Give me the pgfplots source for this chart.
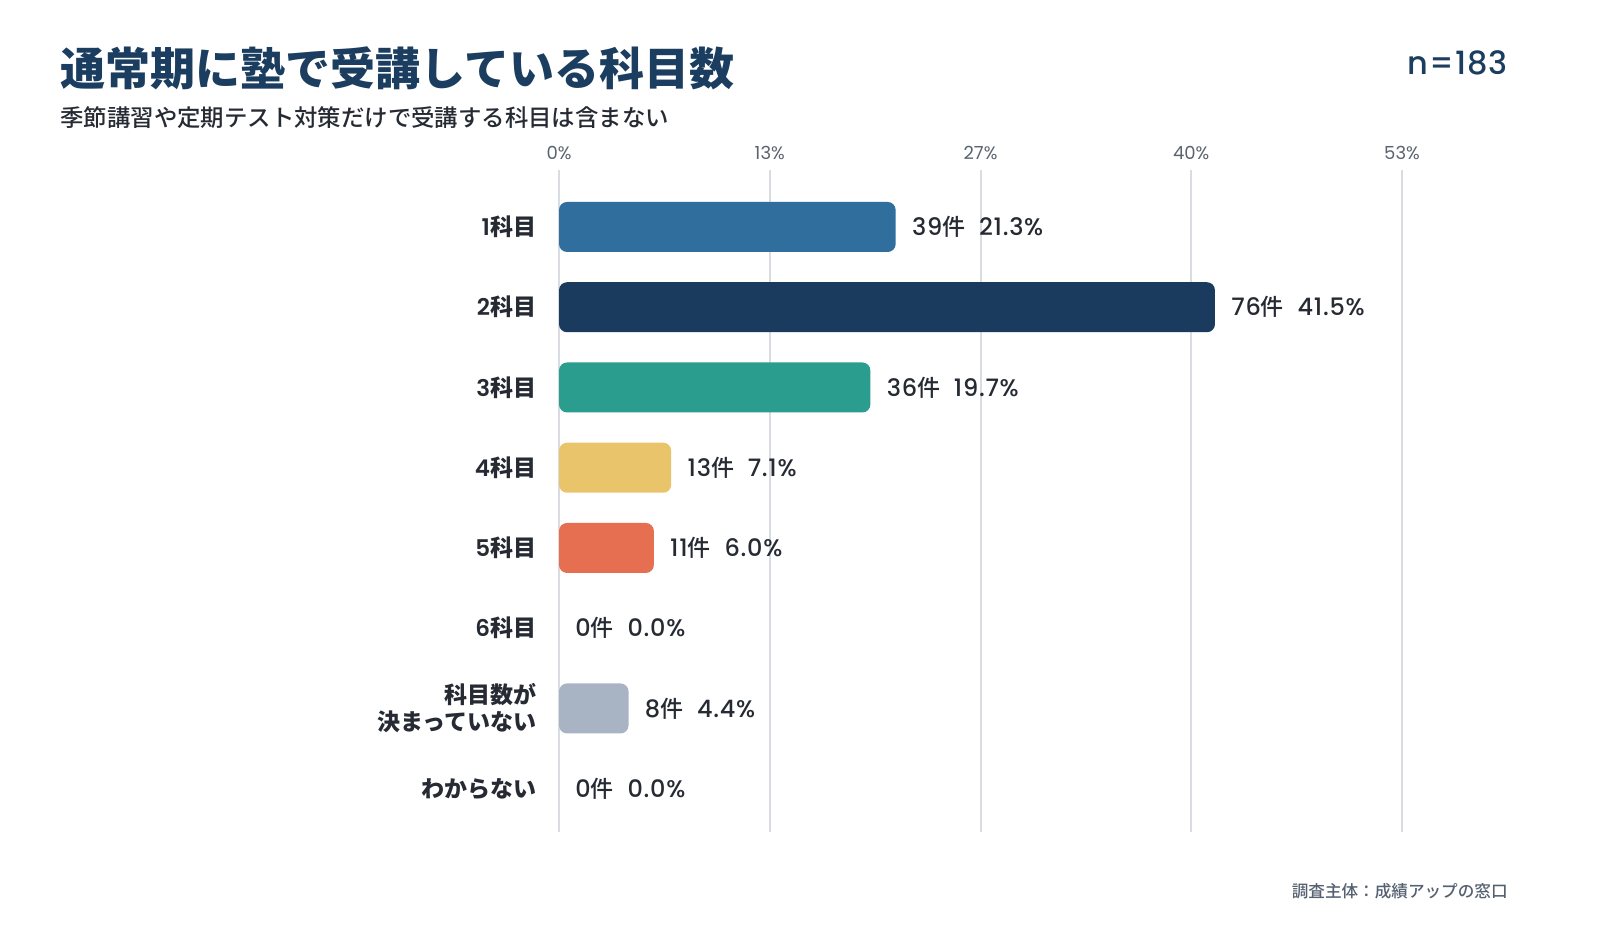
\documentclass[border=0pt]{standalone}
\usepackage{pgfplots}
\pgfplotsset{compat=1.18}
\usepackage{fontspec}
\setmainfont{Noto Sans CJK JP}
\newfontfamily\med{Noto Sans CJK JP Medium}
\newfontfamily\pop{Poppins}
\newfontfamily\popm{Poppins Medium}[LetterSpace=3]
\newfontfamily\pops{Poppins SemiBold}
\definecolor{titlec}{HTML}{1B3D5F}
\definecolor{cA}{HTML}{2F6E9D}
\definecolor{cB}{HTML}{1A3B5D}
\definecolor{cC}{HTML}{2A9D8F}
\definecolor{cD}{HTML}{E9C46A}
\definecolor{cE}{HTML}{E76F51}
\definecolor{cG}{HTML}{A8B4C4}
\definecolor{txt}{HTML}{262B33}
\definecolor{tickc}{HTML}{5A6370}
\definecolor{gridc}{HTML}{D9DDE1}
\definecolor{srcc}{HTML}{556070}
\newcommand{\dg}[1]{{\popm\fontsize{12}{14}\selectfont #1}}
\newcommand{\vl}[2]{\dg{#1}件\hspace{0.6em}\dg{#2\%}}
\newcommand{\cl}[1]{{\mdseries\pops #1}科目}
\begin{document}%
\begin{tikzpicture}
\fill[white] (0,0) rectangle (800pt,475pt);
\node[anchor=base west, inner sep=0pt, text=titlec, font=\bfseries\fontsize{22.5}{26}\selectfont] at (30pt,432pt) {通常期に塾で受講している科目数};
\node[anchor=base west, inner sep=0pt, text=txt, font=\med\fontsize{11.7}{13}\selectfont] at (30pt,411.5pt) {季節講習や定期テスト対策だけで受講する科目は含まない};
\node[anchor=base east, inner sep=0pt, text=titlec, font=\popm\fontsize{16}{19}\selectfont] at (754pt,437.5pt) {n=183};
\node[anchor=base east, inner sep=0pt, text=srcc, font=\med\fontsize{8.3}{10}\selectfont] at (754pt,26.5pt) {調査主体：成績アップの窓口};
\begin{axis}[
  at={(279.5pt,59pt)}, anchor=south west,
  scale only axis, width=421.5pt, height=331pt,
  xmin=0, xmax=53.333, ymin=-0.71, ymax=7.54,
  y dir=reverse,
  xtick={0,13.333,26.667,40,53.333},
  xticklabels={0\%,13\%,27\%,40\%,53\%},
  xticklabel pos=right,
  xticklabel style={anchor=base, inner sep=0pt, yshift=5.5pt, text=tickc, font=\pop\fontsize{9}{11}\selectfont},
  ytick={0,...,7},
  yticklabels={{\cl{1}},{\cl{2}},{\cl{3}},{\cl{4}},{\cl{5}},{\cl{6}},{科目数が\\決まっていない},{わからない}},
  yticklabel style={anchor=east, inner sep=0pt, xshift=-7pt, align=right, text=txt, font=\bfseries\fontsize{11.5}{13.5}\selectfont},
  axis line style={draw=none},
  major tick style={draw=none},
  xmajorgrids, ymajorgrids=false,
  grid style={color=gridc, line width=1pt},
  xbar, bar width=25pt, bar shift=0pt,
  nodes near coords, point meta=explicit symbolic,
  every node near coord/.append style={anchor=west, inner sep=0pt, xshift=8pt, text=txt, font=\med\fontsize{11.5}{13.5}\selectfont},
  clip=false,
]
\addplot[fill=cA, draw=none, rounded corners=4pt] coordinates {(21.3,0) [\vl{39}{21.3}]};
\addplot[fill=cB, draw=none, rounded corners=4pt] coordinates {(41.5,1) [\vl{76}{41.5}]};
\addplot[fill=cC, draw=none, rounded corners=4pt] coordinates {(19.7,2) [\vl{36}{19.7}]};
\addplot[fill=cD, draw=none, rounded corners=4pt] coordinates {(7.1,3) [\vl{13}{7.1}]};
\addplot[fill=cE, draw=none, rounded corners=4pt] coordinates {(6.0,4) [\vl{11}{6.0}]};
\addplot[fill=none, draw=none] coordinates {(0,5) [\vl{0}{0.0}]};
\addplot[fill=cG, draw=none, rounded corners=4pt] coordinates {(4.4,6) [\vl{8}{4.4}]};
\addplot[fill=none, draw=none] coordinates {(0,7) [\vl{0}{0.0}]};
\end{axis}
\pgfresetboundingbox
\useasboundingbox (0,0) rectangle (800pt,475pt);
\end{tikzpicture}%
\end{document}
